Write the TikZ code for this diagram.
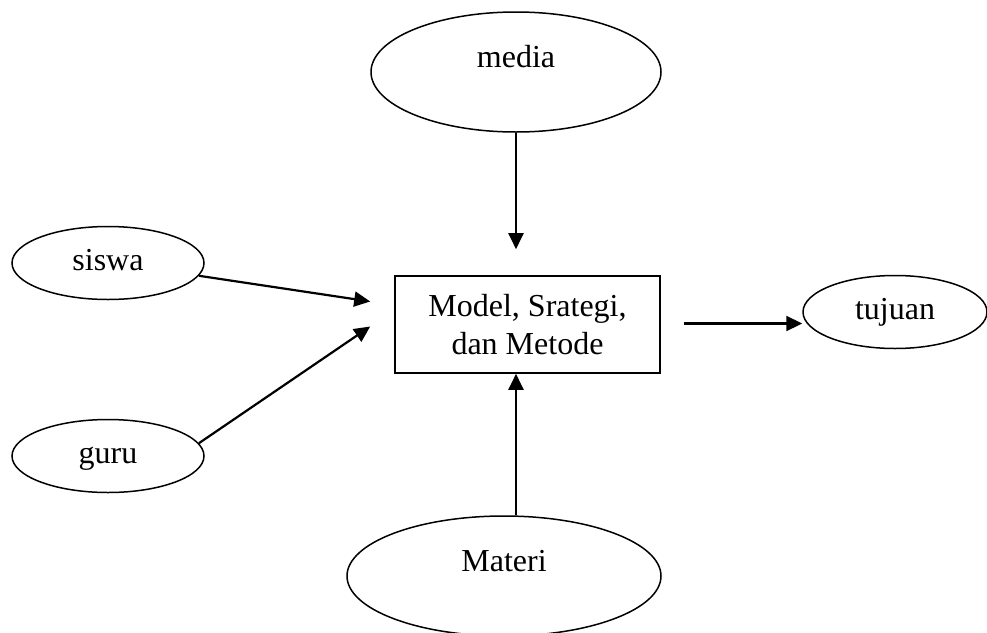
\documentclass[tikz,border=0pt]{standalone}
\usepackage{fontspec}
\setmainfont{Liberation Serif}
\usetikzlibrary{shapes.geometric,arrows.meta}

\tikzset{
	ell/.style={draw,ellipse,line width=1.5pt,inner sep=0pt,
		text height=22pt,text depth=7pt},
	bigell/.style={ell,text depth=32pt},
	mainbox/.style={draw,rectangle,line width=1.6pt,align=center,
		minimum width=265pt,minimum height=97pt},
	arr/.style={-{Triangle[length=16pt,width=15pt]},line width=2.2pt}
}

\begin{document}
\begin{tikzpicture}[x=1pt,y=-1pt,font=\fontsize{32}{38}\selectfont]

\def\smallW{192pt}
\def\smallH{73pt}
\def\bigH{120pt}
\def\gapIn{24pt}

\useasboundingbox (0,0) rectangle (987,632);

% nodes
\node[mainbox] (box) at (527.5,324.5) {Model, Srategi,\\dan Metode};
\node[bigell,minimum width=290pt,minimum height=\bigH] (media) at (516,72) {media};
\node[bigell,minimum width=314pt,minimum height=\bigH] (materi) at (504,576) {Materi};
\node[ell,minimum width=\smallW,minimum height=\smallH] (siswa) at (108,263) {siswa};
\node[ell,minimum width=\smallW,minimum height=\smallH] (guru) at (108,456) {guru};
\node[ell,minimum width=184pt,minimum height=\smallH] (tujuan) at (895,312) {tujuan};

% arrows
\coordinate (siswaEnd) at ([xshift=-\gapIn,yshift=23pt]box.west);
\coordinate (guruEnd) at ([xshift=-\gapIn,yshift=-2pt]box.west);
\coordinate (outStart) at ([xshift=23pt,yshift=1pt]box.east);

\draw[arr,shorten >=26pt] (media.south) -- (media.south |- box.north);
\draw[arr] (media.south |- materi.north) -- (media.south |- box.south);
\draw[arr] (siswa.-8) -- (siswaEnd);
\draw[arr] (guru.8) -- (guruEnd);
\draw[arr] (outStart) -- (outStart -| tujuan.west);

\end{tikzpicture}
\end{document}
